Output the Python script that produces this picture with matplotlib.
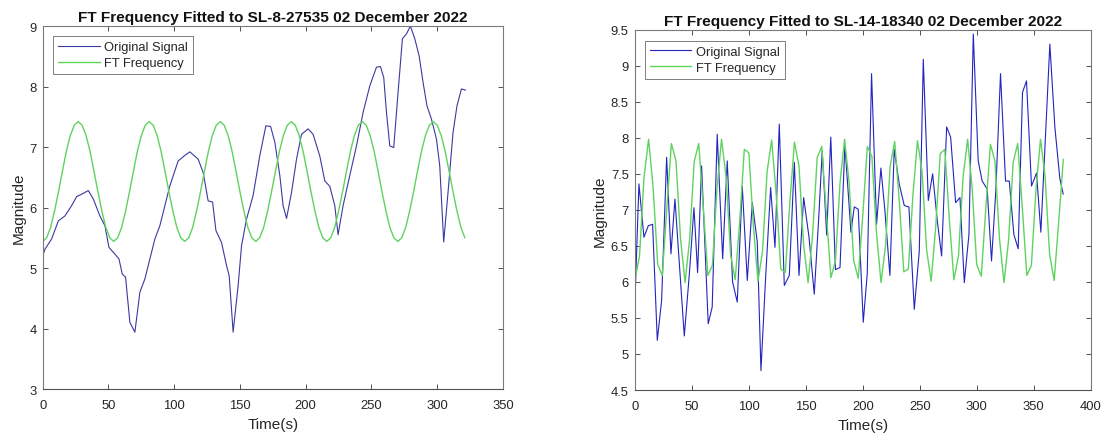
import numpy as np
import matplotlib
matplotlib.use("Agg")
import matplotlib.pyplot as plt
from matplotlib.ticker import FuncFormatter

plt.rcParams['font.family'] = ['Liberation Sans', 'DejaVu Sans']

# ---------------- data: left panel (SL-8-27535) ----------------
left_title = "FT Frequency Fitted to SL-8-27535 02 December 2022"
left_sig_t = [0, 1.7, 6.8, 11.9, 16.9, 22, 25.8, 29.6, 34.7, 38.5, 43.5, 47.3, 50.4,
              54.9, 58, 60.5, 63, 66.3, 70.1, 73.9, 77.7, 81.5, 85.3, 89.1, 92.9,
              96.7, 103, 108, 111.9, 118.2, 122, 125.8, 129.2, 131.7, 136, 139.8,
              141.8, 144.8, 148.6, 151.2, 155, 160, 165.1, 169.7, 173.3, 176.5,
              180.3, 182.8, 185.4, 189.2, 193, 196.8, 201.8, 205.6, 210.7, 214.5,
              218.3, 222.1, 224.6, 228.4, 233.5, 238.6, 243.6, 248.7, 253.8, 256.8,
              259.3, 261.4, 263.9, 266.9, 270.2, 273.5, 276.6, 279.6, 282.9, 286.2,
              289.2, 292.2, 295.6, 299.4, 301.9, 304.9, 308.2, 312, 315, 318.4, 321.4]
left_sig_v = [5.20, 5.31, 5.48, 5.78, 5.86, 6.03, 6.18, 6.22, 6.28, 6.14, 5.86, 5.70, 5.34,
              5.23, 5.15, 4.90, 4.85, 4.10, 3.94, 4.60, 4.82, 5.15, 5.48, 5.70, 6.03,
              6.36, 6.77, 6.86, 6.92, 6.80, 6.58, 6.11, 6.09, 5.62, 5.42, 5.04,
              4.87, 3.94, 4.71, 5.37, 5.81, 6.20, 6.86, 7.35, 7.34, 7.08,
              6.53, 6.03, 5.82, 6.25, 6.80, 7.21, 7.30, 7.21, 6.85, 6.44,
              6.35, 6.03, 5.55, 6.03, 6.53, 7.02, 7.57, 8.01, 8.32, 8.33,
              8.15, 7.57, 7.02, 6.99, 7.90, 8.79, 8.87, 9.00, 8.79, 8.51,
              8.07, 7.68, 7.46, 7.13, 6.69, 5.43, 6.25, 7.24, 7.68, 7.96, 7.94]
left_ft_step = 3.0
left_ft_v = [5.44, 5.50, 5.67, 5.94, 6.26, 6.60, 6.93, 7.19, 7.36, 7.42, 7.36, 7.19, 6.93, 6.60, 6.26, 5.94, 5.67, 5.50,
             5.44, 5.50, 5.67, 5.94, 6.26, 6.60, 6.93, 7.19, 7.36, 7.42, 7.36, 7.19, 6.93, 6.60, 6.26, 5.94, 5.67, 5.50,
             5.44, 5.50, 5.67, 5.94, 6.26, 6.60, 6.93, 7.19, 7.36, 7.42, 7.36, 7.19, 6.93, 6.60, 6.26, 5.94, 5.67, 5.50,
             5.44, 5.50, 5.67, 5.94, 6.26, 6.60, 6.93, 7.19, 7.36, 7.42, 7.36, 7.19, 6.93, 6.60, 6.26, 5.94, 5.67, 5.50,
             5.44, 5.50, 5.67, 5.94, 6.26, 6.60, 6.93, 7.19, 7.36, 7.42, 7.36, 7.19, 6.93, 6.60, 6.26, 5.94, 5.67, 5.50,
             5.44, 5.50, 5.67, 5.94, 6.26, 6.60, 6.93, 7.19, 7.36, 7.42, 7.36, 7.19, 6.93, 6.60, 6.26, 5.94, 5.67, 5.50]
left_xticks = [0, 50, 100, 150, 200, 250, 300, 350]
left_yticks = [3, 4, 5, 6, 7, 8, 9]

# ---------------- data: right panel (SL-14-18340) ----------------
right_title = "FT Frequency Fitted to SL-14-18340 02 December 2022"
right_sig_t = [0, 3.5, 7.9, 11.7, 15.5, 19.6, 23.4, 27.8, 31.6, 35.1, 43.3, 47.7, 51.8,
               55, 58.5, 64.3, 67.8, 72.2, 77, 81, 85.7, 89.8, 94.2, 98.6, 103, 107.4,
               110.6, 114.7, 119.1, 122.9, 126.7, 131.1, 135.5, 139.9, 144, 148.1,
               152.8, 157.4, 161.5, 164.4, 168.3, 171.9, 176, 180, 184.3, 189.6, 192.5,
               196, 200.4, 203.9, 207.7, 212.1, 215.9, 219.4, 223.8, 227.6, 232, 236.4,
               240.5, 245.2, 249.6, 253.1, 257.5, 261.3, 265.4, 269.2, 273.6, 277.1,
               281.5, 285.3, 289.1, 293.2, 297, 301.3, 304.8, 309.2, 313, 316.8, 320.9,
               325.3, 328.6, 332.6, 336.4, 340.2, 343.7, 348.1, 352.5, 356.3, 360.3,
               364.2, 368.6, 373, 375.9]
right_sig_v = [5.74, 7.36, 6.62, 6.78, 6.80, 5.19, 5.74, 7.73, 6.39, 7.15, 5.25, 6.10, 7.03,
               6.13, 7.61, 5.42, 5.65, 8.05, 6.32, 7.68, 6.00, 5.72, 7.33, 6.02, 7.10, 6.55,
               4.77, 6.06, 7.31, 6.48, 8.19, 5.95, 6.09, 7.66, 6.09, 7.17,
               6.62, 5.83, 6.94, 7.82, 6.65, 8.01, 6.17, 6.20, 7.90, 6.69, 7.04,
               7.01, 5.44, 6.11, 8.89, 6.80, 7.58, 6.99, 6.09, 7.84, 7.36, 7.06,
               7.04, 5.62, 6.43, 9.09, 7.13, 7.50, 6.85, 6.36, 8.15, 8.01,
               7.10, 7.17, 5.99, 6.66, 9.44, 7.68, 7.40, 7.29, 6.29, 7.27, 8.89,
               7.40, 7.40, 6.66, 6.46, 8.63, 8.79, 7.33, 7.51, 6.69, 8.00,
               9.30, 8.15, 7.43, 7.22]
right_ft_step = 4.0
right_ft_v = [6.03, 6.36, 7.46, 7.98, 7.30, 6.24, 6.09, 7.03, 7.92, 7.68,
              6.60, 5.99, 6.59, 7.67, 7.92, 7.03, 6.09, 6.23, 7.29, 7.98,
              7.46, 6.37, 6.03, 6.85, 7.84, 7.79, 6.77, 6.01, 6.43, 7.53,
              7.97, 7.21, 6.18, 6.13, 7.11, 7.94, 7.61, 6.52, 5.99, 6.67,
              7.73, 7.88, 6.95, 6.06, 6.29, 7.37, 7.98, 7.38, 6.30, 6.05,
              6.93, 7.88, 7.74, 6.69, 5.99, 6.51, 7.60, 7.95, 7.13, 6.14,
              6.18, 7.20, 7.96, 7.54, 6.45, 6.01, 6.76, 7.78, 7.84, 6.86,
              6.03, 6.36, 7.45, 7.98, 7.30, 6.24, 6.08, 7.02, 7.91, 7.68,
              6.60, 5.99, 6.58, 7.66, 7.92, 7.04, 6.09, 6.23, 7.28, 7.98,
              7.47, 6.38, 6.02, 6.84, 7.70]
right_xticks = [0, 50, 100, 150, 200, 250, 300, 350, 400]
right_yticks = [4.5, 5, 5.5, 6, 6.5, 7, 7.5, 8, 8.5, 9, 9.5]

legend_labels = ["Original Signal", "FT Frequency"]
xlabel = "Time(s)"
ylabel = "Magnitude"

# ---------------- styling ----------------
GREEN = "#5fd35f"
TICKC = "#262626"
SPINE = "#7a7a7a"

fig = plt.figure(figsize=(11.06, 4.35), dpi=100)
ax1 = fig.add_axes([0.0386, 0.1034, 0.4162, 0.8345])
ax2 = fig.add_axes([0.5741, 0.1011, 0.4120, 0.8283])

fmt = FuncFormatter(lambda v, p: f"{v:g}")


def style(ax, title, xticks, yticks, legend_anchor):
    ax.set_xlim(xticks[0], xticks[-1])
    ax.set_ylim(yticks[0], yticks[-1])
    ax.set_xticks(xticks)
    ax.set_yticks(yticks)
    ax.xaxis.set_major_formatter(fmt)
    ax.yaxis.set_major_formatter(fmt)
    ax.tick_params(direction='in', top=True, right=True, length=3.5, width=0.6,
                   color='#333333', labelcolor=TICKC, labelsize=9.4)
    ax.tick_params(axis='x', pad=7.2)
    ax.tick_params(axis='y', pad=4.5)
    for s in ax.spines.values():
        s.set_color(SPINE)
        s.set_linewidth(0.8)
    ax.spines['bottom'].set_color('#505050')
    ax.set_title(title, fontsize=11.1, fontweight='bold', pad=3.5, color='#111111')
    ax.set_xlabel(xlabel, fontsize=11, color=TICKC, labelpad=4.5)
    ax.set_ylabel(ylabel, fontsize=11, color=TICKC, labelpad=2.5)
    leg = ax.legend(legend_labels, loc='upper left', bbox_to_anchor=legend_anchor,
                    borderaxespad=0, fontsize=9.3, frameon=True, fancybox=False,
                    handlelength=3.2, handletextpad=0.35, borderpad=0.4,
                    labelspacing=0.32)
    leg.get_frame().set_edgecolor('#444444')
    leg.get_frame().set_linewidth(0.6)
    for t in leg.get_texts():
        t.set_color(TICKC)


ax1.plot(left_sig_t, left_sig_v, color="#3a3aa0", lw=0.8)
ax1.plot(np.arange(len(left_ft_v)) * left_ft_step, left_ft_v, color=GREEN, lw=1.0)
style(ax1, left_title, left_xticks, left_yticks, (0.023, 0.973))

ax2.plot(right_sig_t, right_sig_v, color="#2424c0", lw=0.8)
ax2.plot(np.arange(len(right_ft_v)) * right_ft_step, right_ft_v, color=GREEN, lw=1.0)
style(ax2, right_title, right_xticks, right_yticks, (0.022, 0.970))

fig.savefig("out.png", dpi=100)
